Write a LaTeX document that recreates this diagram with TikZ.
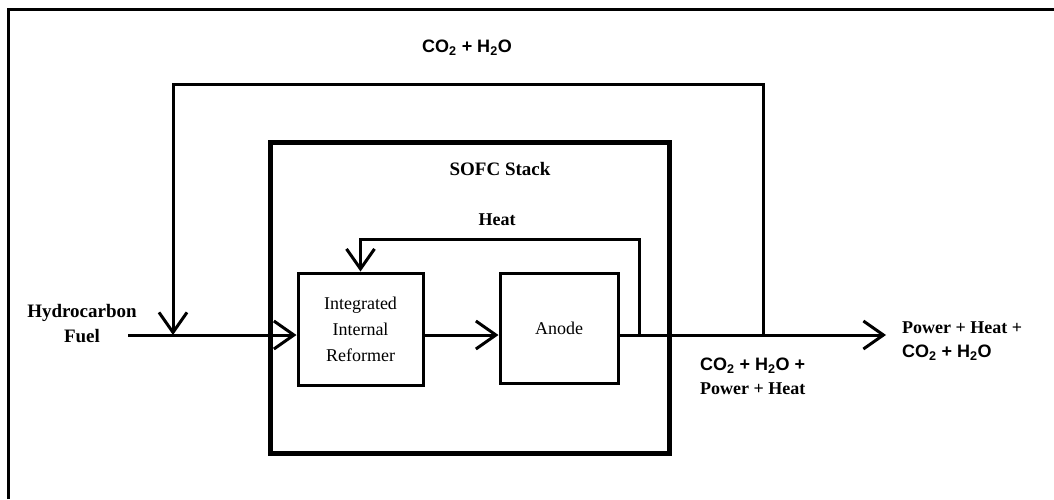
\documentclass[tikz,border=0pt]{standalone}
\usepackage{fontspec}
\setmainfont{Liberation Serif}
\setsansfont{Liberation Sans}
\usetikzlibrary{positioning, arrows.meta, calc}
\newcommand{\chem}[1]{{\sffamily\bfseries #1}}
\newcommand{\cotwo}{CO\textsubscript{2}}
\newcommand{\htwoo}{H\textsubscript{2}O}

\begin{document}
\begin{tikzpicture}[x=1pt, y=-1pt,
    font=\fontsize{19}{25}\selectfont,
    stackbox/.style={draw, line width=5pt, minimum width=399pt, minimum height=311pt, inner sep=0pt},
    ubox/.style={draw, line width=3pt, align=center, inner sep=0pt},
    lbl/.style={align=center, inner sep=0pt},
    flow/.style={line width=3pt},
    arr/.style={flow, -{Straight Barb[length=20pt, width=28pt]}}]
    \useasboundingbox (0,0) rectangle (1054,499);
    % frame
    \draw[line width=3pt] (8,499) -- (8,9) -- (1054,9);
    % units
    \node[stackbox] (stack) at (469.5,297.5) {};
    \node[lbl, font=\fontsize{19}{25}\selectfont\bfseries] (stacklbl) at (500,169) {SOFC Stack};
    \node[ubox, minimum width=125pt, minimum height=112pt,
      font=\fontsize{18}{26}\selectfont] (rfm) at (360.5,329) {Integrated\\Internal\\Reformer};
    \node[ubox, minimum width=118pt, minimum height=110pt,
      font=\fontsize{18}{26}\selectfont] (anode) at (559,328) {Anode};
    % texts
    \node[lbl, font=\fontsize{19}{25}\selectfont\bfseries] (fuel) at (82,324) {Hydrocarbon\\Fuel};
    \node[lbl, font=\fontsize{18}{24}\selectfont\bfseries] (heat) at (497,220) {Heat};
    \node[lbl, font=\fontsize{18}{24}\selectfont] (recyc) at (467,48) {\chem{\cotwo{} + \htwoo}};
    \node[lbl, anchor=north west, align=left, font=\fontsize{18}{24}\selectfont\bfseries]
      (exhaust) at (700,358) {\chem{\cotwo{} + \htwoo{} +}\\Power + Heat};
    \node[lbl, anchor=north west, align=left, font=\fontsize{18}{24}\selectfont\bfseries]
      (product) at (902,322) {Power + Heat +\\\chem{\cotwo{} + \htwoo}};
    % junctions
    \coordinate (fuelin) at (128,335);
    \coordinate (mix) at (173,335);
    \coordinate (tap) at (639,335);
    \coordinate (split) at (763,335);
    \coordinate (outend) at (886,335);
    % flows
    \draw[arr] (fuelin) -- (fuelin -| rfm.west);
    \draw[arr] (rfm.east |- 0,335) -- (anode.west |- 0,335);
    \draw[arr] (anode.east |- 0,335) -- (outend);
    \draw[arr] (split) -- (split |- 0,84) -| (mix);
    \draw[arr] (tap) -- (tap |- 0,239) -| (rfm.north);
\end{tikzpicture}
\end{document}
